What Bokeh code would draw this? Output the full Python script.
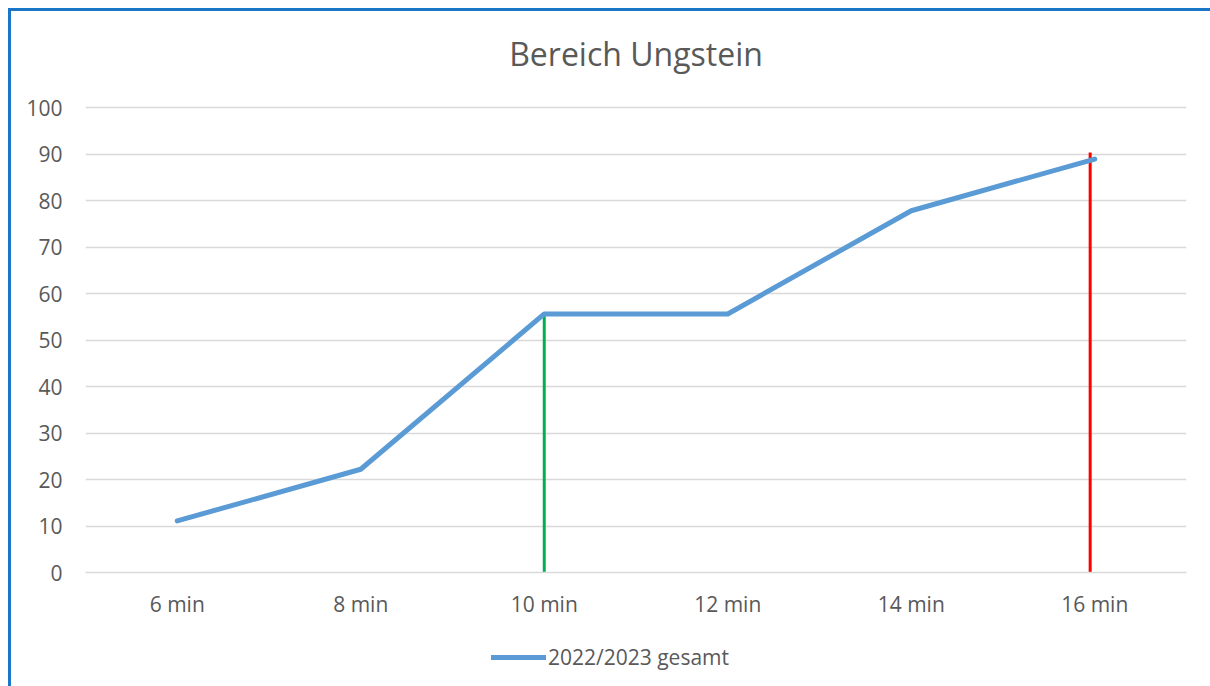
from bokeh.plotting import figure
from bokeh.layouts import column
from bokeh.models import FixedTicker, Legend, LegendItem, Title, ColumnDataSource
from bokeh.embed import file_html
from bokeh.resources import INLINE

categories = ["6 min", "8 min", "10 min", "12 min", "14 min", "16 min"]
values = [11.1, 22.2, 55.6, 55.6, 77.8, 88.9]
series_name = "2022/2023 gesamt"
title_text = "Bereich Ungstein"
y_ticks = [0, 10, 20, 30, 40, 50, 60, 70, 80, 90, 100]
marker_categories = ["10 min", "16 min"]
marker_heights = [55.6, 90.3]
marker_colors = ["#00b050", "#ff0000"]
marker_offsets = [0.0, -0.025]

FONT = "Open Sans"
TXT = "#595959"
LINE_COLOR = "#5b9bd5"
FRAME_BLUE = "#1a76c7"

xs = list(range(len(categories)))
src = ColumnDataSource(dict(x=xs, y=values))

FRAME_H = 489
Y_TOP = 100 * FRAME_H / 465  # a little headroom above the 100 gridline

p = figure(frame_width=1101, frame_height=FRAME_H, output_backend="svg", toolbar_location=None,
           x_range=(-0.5, len(categories) - 0.5), y_range=(0, Y_TOP),
           min_border_left=74, min_border_right=24, min_border_top=72, min_border_bottom=58)
p.background_fill_color = "white"
p.border_fill_color = "white"
p.outline_line_color = None

p.title = Title(text=title_text, align="center", text_font=FONT, text_font_size="32px",
                text_font_style="normal", text_color=TXT, standoff=18)

p.xgrid.grid_line_color = None
p.ygrid.grid_line_color = "#d9d9d9"
p.ygrid.grid_line_width = 1.5
p.yaxis.ticker = FixedTicker(ticks=y_ticks)
p.xaxis.ticker = FixedTicker(ticks=xs)
p.xaxis.major_label_overrides = {i: c for i, c in enumerate(categories)}

for ax in (p.xaxis[0], p.yaxis[0]):
    ax.major_tick_line_color = None
    ax.minor_tick_line_color = None
    ax.major_label_text_font = FONT
    ax.major_label_text_font_size = "21px"
    ax.major_label_text_color = TXT
p.yaxis.axis_line_color = None
p.xaxis.axis_line_color = "#d9d9d9"
p.xaxis.axis_line_width = 1.5
p.yaxis.major_label_standoff = 17
p.xaxis.major_label_standoff = 11

for cat, h, col, off in zip(marker_categories, marker_heights, marker_colors, marker_offsets):
    xi = categories.index(cat) + off
    p.segment(x0=[xi], y0=[0], x1=[xi], y1=[h], line_color=col, line_width=3)

p.line("x", "y", source=src, line_color=LINE_COLOR, line_width=5,
       line_cap="round", line_join="round")

# legend strip below the chart (series drawn out of view; only its legend entry shows)
lg = figure(width=1199, height=56, output_backend="svg", toolbar_location=None,
            x_range=(-0.5, len(categories) - 0.5), y_range=(-100, -99),
            x_axis_location=None, y_axis_location=None, min_border=0)
lg.grid.grid_line_color = None
lg.outline_line_color = None
lg.background_fill_color = "white"
lg.border_fill_color = "white"
r = lg.line("x", "y", source=src, line_color=LINE_COLOR, line_width=5, line_cap="round")
legend = Legend(items=[LegendItem(label=series_name, renderers=[r])],
                orientation="horizontal", location=(406, 15),
                label_text_font=FONT, label_text_font_size="21px", label_text_color=TXT,
                glyph_width=55, glyph_height=22, label_standoff=2,
                border_line_color=None, background_fill_alpha=0, margin=0, padding=2)
lg.add_layout(legend, "center")

layout = column(p, lg, spacing=0,
                styles={"margin-left": "8px", "margin-top": "8px",
                        "border-left": "3px solid " + FRAME_BLUE,
                        "border-top": "3px solid " + FRAME_BLUE})

open("out.html", "w").write(file_html(layout, INLINE))
